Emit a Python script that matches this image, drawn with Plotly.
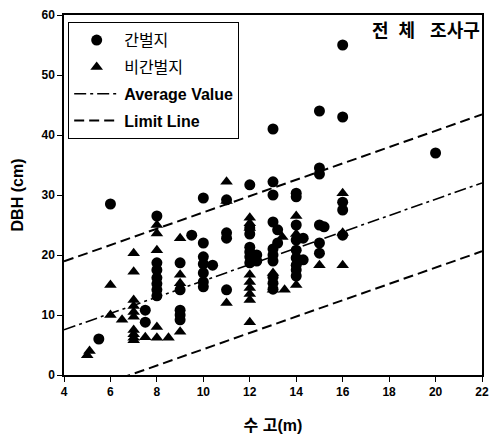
import plotly.graph_objects as go
import numpy as np

# Tree height (m) and DBH (cm) for thinned stands (간벌지)
thinned_h = [5.5, 6, 7.5, 7.5,
             8, 8, 8, 8, 8, 8, 8,
             9, 9, 9, 9, 9, 9.5,
             10, 10, 10, 10, 10, 10, 10, 10.4,
             11, 11, 11, 11,
             12, 12, 12, 12, 12, 12, 12, 12.3, 12.3,
             13, 13, 13, 13, 13.2, 13, 13, 13, 13, 13, 13, 13.2,
             14, 14, 14, 14, 14.3, 14, 14, 14, 14.3, 14, 14,
             15, 15, 15, 15, 15.2, 15, 15,
             16, 16, 16, 16, 16, 20]
thinned_d = [6.0, 28.5, 10.8, 8.8,
             26.5, 18.7, 17.5, 16.2, 15.2, 14.2, 13.2,
             18.7, 14.2, 10.8, 10.0, 9.2, 23.3,
             29.5, 22.0, 19.7, 18.5, 17.0, 15.5, 14.7, 18.3,
             29.2, 23.7, 22.8, 14.2,
             31.7, 24.5, 23.5, 21.3, 20.5, 19.7, 18.7, 20.0, 19.0,
             41.0, 32.2, 30.0, 25.5, 24.2, 21.0, 20.0, 19.0, 16.3, 15.3, 14.3, 22.0,
             30.3, 29.7, 25.0, 22.5, 22.8, 20.8, 19.5, 18.3, 19.2, 17.5, 16.5,
             44.0, 34.5, 33.5, 25.0, 24.7, 22.0, 20.3,
             55.0, 43.0, 28.8, 27.5, 23.3, 37.0]

# Tree height (m) and DBH (cm) for unthinned stands (비간벌지)
unthinned_h = [5, 5.1, 6, 6, 6.5,
               7, 7, 7, 7, 7, 7, 7, 7, 7, 7, 7.5,
               8, 8, 8, 8, 8, 8.5,
               9, 9, 9, 9,
               11, 11, 11,
               12, 12, 12, 12, 12, 12, 12, 12, 12,
               13.4, 13, 13.5, 13,
               14, 14, 14,
               15, 16, 16, 16]
unthinned_d = [3.3, 4.0, 15.0, 10.0, 9.2,
               20.3, 17.2, 12.5, 11.5, 10.5, 9.7, 7.5, 6.8, 6.2, 5.8, 6.3,
               25.0, 23.6, 20.8, 8.0, 6.2, 6.2,
               22.8, 16.7, 15.3, 7.2,
               32.2, 29.0, 12.0,
               26.2, 25.3, 24.5, 16.7, 15.5, 14.5, 13.5, 12.5, 8.8,
               23.0, 14.2, 14.2, 17.0,
               26.5, 23.5, 15.0,
               18.3, 30.3, 23.7, 18.3]

# Fitted average line and the ± limit band
avg_slope = 1.36
avg_intercept = 2.1
limit_offset = 11.4
line_x = np.array([4, 22])
avg_y = avg_slope * line_x + avg_intercept

fig = go.Figure()
fig.add_trace(go.Scatter(
    x=thinned_h, y=thinned_d, mode="markers", name="간벌지", legendgroup="a",
    marker=dict(symbol="circle", size=11, color="black")))
fig.add_trace(go.Scatter(
    x=unthinned_h, y=unthinned_d, mode="markers", name="비간벌지", legendgroup="b",
    marker=dict(symbol="triangle-up", size=11, color="black")))
fig.add_trace(go.Scatter(
    x=line_x, y=avg_y, mode="lines", name="<b>Average Value</b>", legendgroup="c",
    line=dict(color="black", width=1.6, dash="12px,4px,3px,4px")))
fig.add_trace(go.Scatter(
    x=line_x, y=avg_y + limit_offset, mode="lines", name="<b>Limit Line</b>",
    legendgroup="d", line=dict(color="black", width=2, dash="10px,5px")))
fig.add_trace(go.Scatter(
    x=line_x, y=avg_y - limit_offset, mode="lines", showlegend=False,
    line=dict(color="black", width=2, dash="10px,5px")))

font_family = "Liberation Sans, Arial, Noto Sans CJK KR"
axis_common = dict(
    showgrid=False, zeroline=False, showline=True, linecolor="black",
    linewidth=1.5, mirror=True, ticks="outside", ticklen=5, tickwidth=1,
    tickcolor="black", tickfont=dict(family=font_family, size=12, color="black"),
)

fig.update_layout(
    width=497, height=446,
    margin=dict(l=64, r=8, t=15, b=71),
    paper_bgcolor="white", plot_bgcolor="white",
    font=dict(family=font_family, color="black"),
    showlegend=True,
    legend=dict(
        x=0.01, y=0.98, xanchor="left", yanchor="top",
        bordercolor="black", borderwidth=1, bgcolor="white",
        font=dict(family=font_family, size=16, color="black"),
        tracegroupgap=3, itemwidth=45,
    ),
    xaxis=dict(
        range=[4, 22], tickmode="array",
        tickvals=[4, 6, 8, 10, 12, 14, 16, 18, 20, 22],
        ticktext=[f"<b>{v}</b>" for v in [4, 6, 8, 10, 12, 14, 16, 18, 20, 22]],
        title=dict(text="<b>수 고(m)</b>", font=dict(size=16), standoff=22),
        **axis_common),
    yaxis=dict(
        range=[0, 60], tickmode="array",
        tickvals=[0, 10, 20, 30, 40, 50, 60],
        ticktext=[f"<b>{v}</b>" for v in [0, 10, 20, 30, 40, 50, 60]],
        title=dict(text="<b>DBH (cm)</b>", font=dict(size=16), standoff=14),
        **axis_common),
    annotations=[dict(
        text="<b>전\u00a0\u00a0체\u00a0\u00a0\u00a0조사구</b>", xref="paper", yref="paper",
        x=1.0, y=0.99, xanchor="right", yanchor="top", showarrow=False,
        font=dict(family=font_family, size=18, color="black"))],
)

fig.write_html("out.html")
